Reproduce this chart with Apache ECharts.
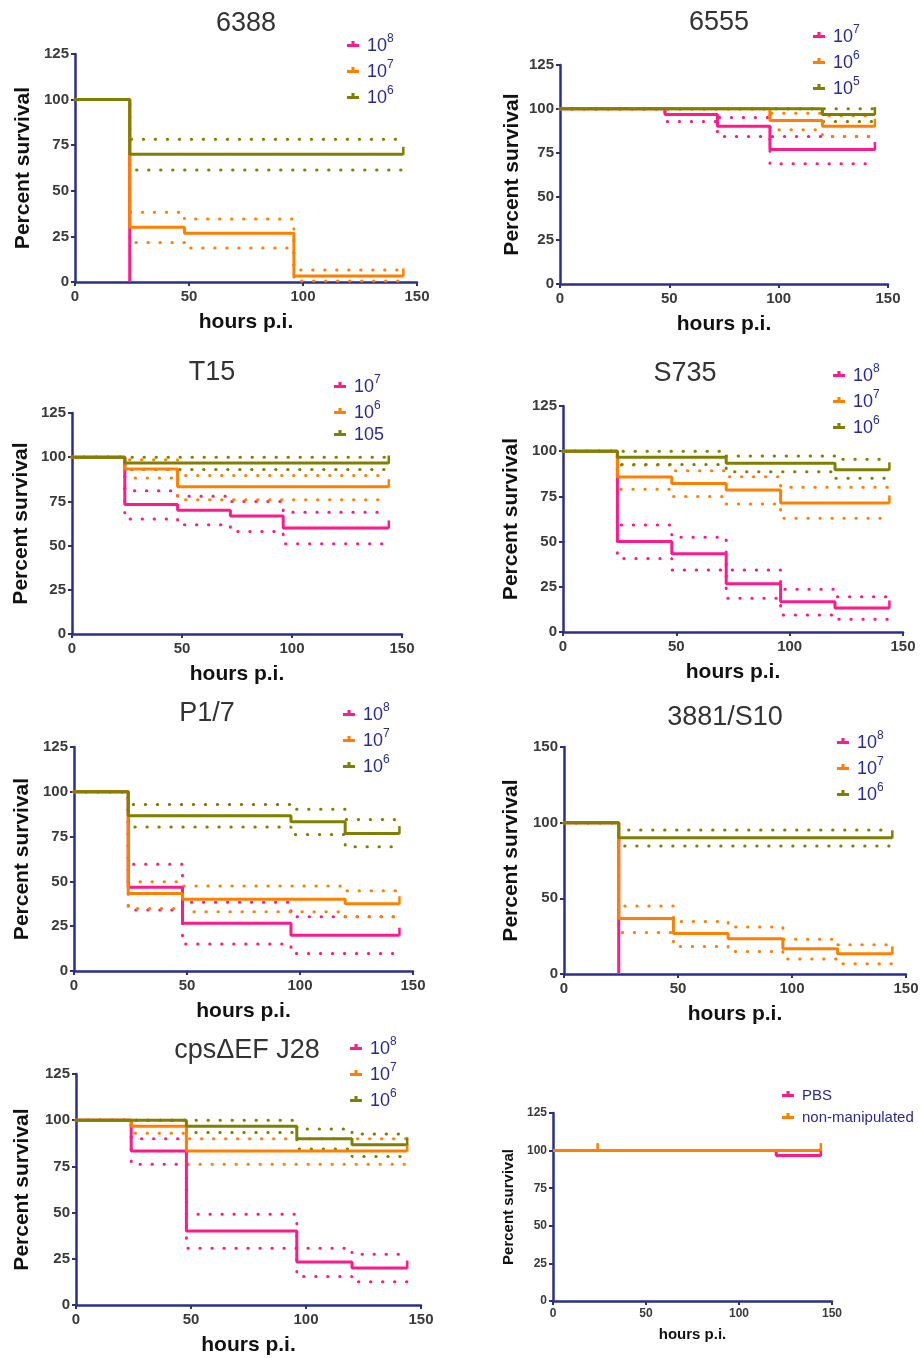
<!DOCTYPE html>
<html>
<head>
<meta charset="utf-8">
<script src="https://cdn.jsdelivr.net/npm/echarts@6.0.0/dist/echarts.min.js"></script>
<style>
  html, body { margin: 0; padding: 0; background: #fff; }
  #chart { width: 922px; height: 1358px; }
</style>
</head>
<body>
<div id="chart"></div>
<script>
// sampling times (hours p.i.)
const hours = [0, 24, 48, 72, 96, 120, 144];

// 6388
const s6388_e8 = [100, 0, null, null, null, null, null];
const s6388_e7 = [100, 30, 26.7, 26.7, 3.3, 3.3, 3.3];
const s6388_e7_hi = [100, 38.2, 34.5, 34.5, 6.6, 6.6, 6.6];
const s6388_e7_lo = [100, 21.6, 18.7, 18.7, 0.5, 0.5, 0.5];
const s6388_e6 = [100, 70, 70, 70, 70, 70, 70];
const s6388_e6_hi = [100, 78.2, 78.2, 78.2, 78.2, 78.2, 78.2];
const s6388_e6_lo = [100, 61.4, 61.4, 61.4, 61.4, 61.4, 61.4];

// 6555
const s6555_e7 = [100, 100, 96.7, 90, 76.7, 76.7, 76.7];
const s6555_e7_hi = [100, 100, 100, 95, 84.2, 84.2, 84.2];
const s6555_e7_lo = [100, 100, 92.7, 84.2, 68.6, 68.6, 68.6];
const s6555_e6 = [100, 100, 100, 100, 93.3, 90, 90];
const s6555_e6_hi = [100, 100, 100, 100, 97.5, 96, 96];
const s6555_e6_lo = [100, 100, 100, 100, 88, 84.2, 84.2];
const s6555_e5 = [100, 100, 100, 100, 100, 96.7, 96.7];
const s6555_e5_hi = [100, 100, 100, 100, 100, 100, 100];
const s6555_e5_lo = [100, 100, 100, 100, 100, 92.7, 92.7];

// T15
const sT15_e7 = [100, 73.3, 70, 66.7, 60, 60, 60];
const sT15_e7_hi = [100, 81, 77.9, 75, 68.8, 68.8, 68.8];
const sT15_e7_lo = [100, 65, 61.8, 58, 51.1, 51.1, 51.1];
const sT15_e6 = [100, 93.3, 83.3, 83.3, 83.3, 83.3, 83.3];
const sT15_e6_hi = [100, 98.6, 89.6, 89.6, 89.6, 89.6, 89.6];
const sT15_e6_lo = [100, 88.2, 76, 76, 76, 76, 76];
const sT15_e5 = [100, 96.7, 96.7, 96.7, 96.7, 96.7, 96.7];
const sT15_e5_hi = [100, 100, 100, 100, 100, 100, 100];
const sT15_e5_lo = [100, 93, 93, 93, 93, 93, 93];

// S735
const sS735_e8 = [100, 50, 43.3, 26.7, 16.7, 13.3, 13.3];
const sS735_e8_hi = [100, 59.2, 52.4, 34.3, 23.6, 19.5, 19.5];
const sS735_e8_lo = [100, 40.7, 34.3, 18.6, 9.4, 7, 7];
const sS735_e7 = [100, 85.7, 82.1, 78.6, 71.4, 71.4, 71.4];
const sS735_e7_hi = [100, 92.4, 89.2, 85.9, 80, 80, 80];
const sS735_e7_lo = [100, 78.9, 74.9, 70.8, 62.9, 62.9, 62.9];
const sS735_e6 = [100, 96.7, 96.7, 93.3, 93.3, 89.7, 89.7];
const sS735_e6_hi = [100, 100, 100, 97.3, 97.3, 95.5, 95.5];
const sS735_e6_lo = [100, 92.7, 92.7, 88.7, 88.7, 85, 85];

// P1/7
const sP17_e8 = [100, 46.7, 26.7, 26.7, 20, 20, 20];
const sP17_e8_hi = [100, 59.6, 38.3, 38.3, 30.3, 30.3, 30.3];
const sP17_e8_lo = [100, 34, 15, 15, 9.8, 9.8, 9.8];
const sP17_e7 = [100, 43.3, 40, 40, 40, 37.5, 37.5];
const sP17_e7_hi = [100, 49.8, 47.5, 47.5, 47.5, 44.8, 44.8];
const sP17_e7_lo = [100, 34.9, 33, 33, 33, 30.3, 30.3];
const sP17_e6 = [100, 86.7, 86.7, 86.7, 83.3, 76.7, 76.7];
const sP17_e6_hi = [100, 92.9, 92.9, 92.9, 90.3, 84.5, 84.5];
const sP17_e6_lo = [100, 80.4, 80.4, 80.4, 76.2, 69.3, 69.3];

// 3881/S10
const s3881_e8 = [100, 0, null, null, null, null, null];
const s3881_e7 = [100, 36.7, 26.7, 23.3, 16.7, 13.3, 13.3];
const s3881_e7_hi = [100, 45, 34.7, 31, 23, 19.3, 19.3];
const s3881_e7_lo = [100, 27.5, 18.2, 14.9, 9.9, 6.8, 6.8];
const s3881_e6 = [100, 90, 90, 90, 90, 90, 90];
const s3881_e6_hi = [100, 95.1, 95.1, 95.1, 95.1, 95.1, 95.1];
const s3881_e6_lo = [100, 84.6, 84.6, 84.6, 84.6, 84.6, 84.6];

// cpsΔEF J28
const sJ28_e8 = [100, 83.3, 40, 40, 23.3, 20, 20];
const sJ28_e8_hi = [100, 90, 49.1, 49.1, 30.7, 27.5, 27.5];
const sJ28_e8_lo = [100, 76.2, 30.7, 30.7, 15.4, 12.6, 12.6];
const sJ28_e7 = [100, 96.7, 83.3, 83.3, 83.3, 83.3, 83.3];
const sJ28_e7_hi = [100, 100, 90, 90, 90, 90, 90];
const sJ28_e7_lo = [100, 93, 76.2, 76.2, 76.2, 76.2, 76.2];
const sJ28_e6 = [100, 100, 96.7, 96.7, 90, 86.7, 86.7];
const sJ28_e6_hi = [100, 100, 100, 100, 95.2, 92.5, 92.5];
const sJ28_e6_lo = [100, 100, 93.4, 93.4, 84.4, 80.4, 80.4];

// controls
const sPBS = [100, 100, 100, 100, 100, 96.7, 96.7];
const sNonManip = [100, 100, 100, 100, 100, 100, 100];

const PINK = '#ff1a8c';
const ORANGE = '#ff8000';
const GREEN = '#808000';
const AXIS = '#2b2f8a';
const FONT = '"Liberation Sans", Arial, sans-serif';

// layout: grid [left, top, width, height]
const panels = [
  { title: '6388', grid: [75, 54, 342, 228], yMax: 125, yStep: 25, titleAt: [246, 10], legendAt: [347, 33], yGap: 41,
    curves: [
      { label: '10^8', color: PINK, s: s6388_e8 },
      { label: '10^7', color: ORANGE, s: s6388_e7, hi: s6388_e7_hi, lo: s6388_e7_lo },
      { label: '10^6', color: GREEN, s: s6388_e6, hi: s6388_e6_hi, lo: s6388_e6_lo }
    ] },
  { title: '6555', grid: [560, 65, 328, 219], yMax: 125, yStep: 25, titleAt: [719, 9], legendAt: [813, 24], yGap: 37,
    curves: [
      { label: '10^7', color: PINK, s: s6555_e7, hi: s6555_e7_hi, lo: s6555_e7_lo },
      { label: '10^6', color: ORANGE, s: s6555_e6, hi: s6555_e6_hi, lo: s6555_e6_lo },
      { label: '10^5', color: GREEN, s: s6555_e5, hi: s6555_e5_hi, lo: s6555_e5_lo }
    ] },
  { title: 'T15', grid: [72, 413, 330, 221], yMax: 125, yStep: 25, titleAt: [212, 359], legendAt: [334, 374], yGap: 40,
    curves: [
      { label: '10^7', color: PINK, s: sT15_e7, hi: sT15_e7_hi, lo: sT15_e7_lo },
      { label: '10^6', color: ORANGE, s: sT15_e6, hi: sT15_e6_hi, lo: sT15_e6_lo },
      { label: '105', color: GREEN, s: sT15_e5, hi: sT15_e5_hi, lo: sT15_e5_lo }
    ] },
  { title: 'S735', grid: [563, 406, 340, 226], yMax: 125, yStep: 25, titleAt: [685, 360], legendAt: [833, 363], yGap: 41,
    curves: [
      { label: '10^8', color: PINK, s: sS735_e8, hi: sS735_e8_hi, lo: sS735_e8_lo },
      { label: '10^7', color: ORANGE, s: sS735_e7, hi: sS735_e7_hi, lo: sS735_e7_lo },
      { label: '10^6', color: GREEN, s: sS735_e6, hi: sS735_e6_hi, lo: sS735_e6_lo }
    ] },
  { title: 'P1/7', grid: [74, 747, 339, 224], yMax: 125, yStep: 25, titleAt: [207, 700], legendAt: [343, 702], yGap: 41,
    curves: [
      { label: '10^8', color: PINK, s: sP17_e8, hi: sP17_e8_hi, lo: sP17_e8_lo },
      { label: '10^7', color: ORANGE, s: sP17_e7, hi: sP17_e7_hi, lo: sP17_e7_lo },
      { label: '10^6', color: GREEN, s: sP17_e6, hi: sP17_e6_hi, lo: sP17_e6_lo }
    ] },
  { title: '3881/S10', grid: [564, 747, 342, 227], yMax: 150, yStep: 50, titleAt: [725, 704], legendAt: [837, 730], yGap: 42,
    curves: [
      { label: '10^8', color: PINK, s: s3881_e8 },
      { label: '10^7', color: ORANGE, s: s3881_e7, hi: s3881_e7_hi, lo: s3881_e7_lo },
      { label: '10^6', color: GREEN, s: s3881_e6, hi: s3881_e6_hi, lo: s3881_e6_lo }
    ] },
  { title: 'cpsΔEF J28', grid: [76, 1074, 345, 231], yMax: 125, yStep: 25, titleAt: [247, 1037], legendAt: [350, 1036], yGap: 43,
    curves: [
      { label: '10^8', color: PINK, s: sJ28_e8, hi: sJ28_e8_hi, lo: sJ28_e8_lo },
      { label: '10^7', color: ORANGE, s: sJ28_e7, hi: sJ28_e7_hi, lo: sJ28_e7_lo },
      { label: '10^6', color: GREEN, s: sJ28_e6, hi: sJ28_e6_hi, lo: sJ28_e6_lo }
    ] },
  { title: '', grid: [553, 1113, 279, 188], yMax: 125, yStep: 25, legendAt: [782, 1088], yGap: 37, small: true,
    curves: [
      { label: 'PBS', color: PINK, s: sPBS },
      { label: 'non-manipulated', color: ORANGE, s: sNonManip, ticks: [1, 6] }
    ] }
];

const labelOf = {};
const LEGEND_ICON = 'path://M0,3.5H14V7H0Z M5.2,0H8.8V7H5.2Z';

const option = {
  animation: false,
  backgroundColor: '#fff',
  textStyle: { fontFamily: FONT },
  title: [], legend: [], grid: [], xAxis: [], yAxis: [], series: []
};

// drop the time points after the last subject died
function toPoints(arr) {
  return hours.map((h, i) => [h, arr[i]]).filter(pt => pt[1] != null);
}

panels.forEach((p, i) => {
  const small = !!p.small;
  const tickFont = small ? 12 : 15;
  const nameFont = small ? 15 : 21;

  option.grid.push({ left: p.grid[0], top: p.grid[1], width: p.grid[2], height: p.grid[3] });

  const axisCommon = {
    gridIndex: i,
    type: 'value',
    nameLocation: 'middle',
    nameTextStyle: { fontSize: nameFont, fontWeight: 'bold', color: '#111', fontFamily: FONT },
    axisLine: { show: true, onZero: false, lineStyle: { color: AXIS, width: 2.5 } },
    axisTick: { show: true, length: 4, lineStyle: { color: AXIS, width: 2 } },
    axisLabel: { fontSize: tickFont, fontWeight: 'bold', color: '#3a3a3a', fontFamily: FONT, margin: 6 },
    splitLine: { show: false }
  };
  option.xAxis.push(Object.assign({}, axisCommon, {
    min: 0, max: 150, interval: 50,
    name: 'hours p.i.', nameGap: small ? 26 : 30,
    axisLabel: Object.assign({}, axisCommon.axisLabel, { margin: 7 })
  }));
  option.yAxis.push(Object.assign({}, axisCommon, {
    min: 0, max: p.yMax, interval: p.yStep,
    name: 'Percent survival', nameGap: p.yGap
  }));

  if (p.title) {
    option.title.push({
      text: p.title, left: p.titleAt[0], top: p.titleAt[1], textAlign: 'center', padding: 0,
      textStyle: { fontSize: 27, fontWeight: 'normal', color: '#333', fontFamily: FONT }
    });
  }

  // confidence bands first (dotted), drawn under the curves
  p.curves.forEach((c) => {
    ['hi', 'lo'].forEach((key) => {
      if (!c[key]) return;
      option.series.push({
        type: 'line', step: 'end', xAxisIndex: i, yAxisIndex: i,
        data: toPoints(c[key]), symbol: 'none', silent: true, z: 2,
        lineStyle: { color: c.color, width: 3, type: [0.4, 11.6], cap: 'round' }
      });
    });
  });

  const names = [];
  p.curves.forEach((c, k) => {
    const name = 'p' + i + '_' + k;
    labelOf[name] = c.label;
    names.push(name);
    const ticks = c.ticks || (c.s[c.s.length - 1] != null ? [c.s.length - 1] : []);
    option.series.push({
      name: name, type: 'line', step: 'end', xAxisIndex: i, yAxisIndex: i,
      data: toPoints(c.s), z: 3,
      symbol: 'rect', showAllSymbol: true,
      symbolSize: (v, params) => ticks.indexOf(params.dataIndex) >= 0 ? [2.5, 8] : 0,
      symbolOffset: [0, -3.5],
      itemStyle: { color: c.color },
      lineStyle: { color: c.color, width: 3 }
    });
  });

  const lineH = small ? 18 : 22;
  option.legend.push({
    data: names, orient: 'vertical', left: p.legendAt[0], top: p.legendAt[1],
    padding: 0, itemGap: small ? 7 : 4, itemWidth: 12, itemHeight: 7,
    icon: LEGEND_ICON, selectedMode: false,
    itemStyle: { borderWidth: 0 },
    formatter: (name) => {
      const parts = labelOf[name].split('^');
      return parts.length > 1 ? '{b|' + parts[0] + '}{s|' + parts[1] + '}' : '{b|' + parts[0] + '}';
    },
    textStyle: {
      padding: [0, 0, 0, 3],
      rich: {
        b: { fontSize: small ? 15 : 18, lineHeight: lineH, verticalAlign: 'bottom', color: '#2a2a96', fontFamily: FONT },
        s: { fontSize: 12, lineHeight: 12, verticalAlign: 'top', color: '#2a2a96', fontFamily: FONT }
      }
    }
  });
});

const chart = echarts.init(document.getElementById('chart'), null, { renderer: 'canvas' });
chart.setOption(option);
</script>
</body>
</html>
